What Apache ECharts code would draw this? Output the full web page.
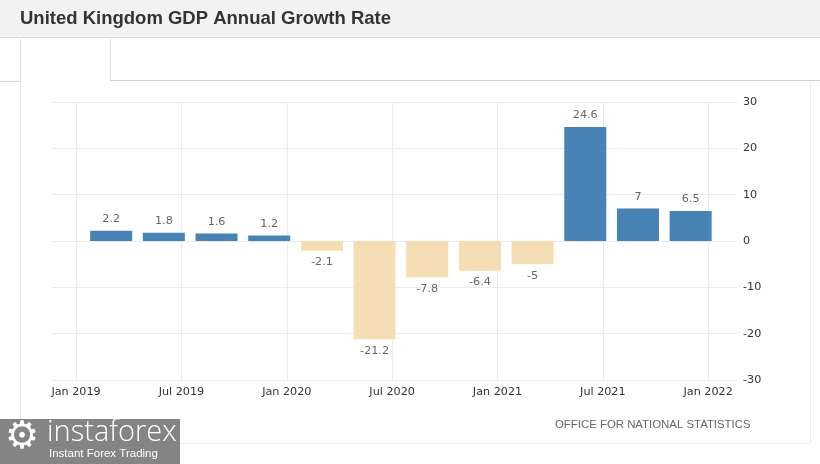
<!DOCTYPE html>
<html>
<head>
<meta charset="utf-8">
<script src="https://cdn.jsdelivr.net/npm/echarts@6/dist/echarts.min.js"></script>
<style>
html,body{margin:0;padding:0;background:#fff;}
#c{width:820px;height:464px;}
</style>
</head>
<body>
<div id="c"></div>
<script>
// Data
const titleText = 'United Kingdom GDP Annual Growth Rate';
const sourceText = 'OFFICE FOR NATIONAL STATISTICS';
const quarterLabels = ['2019Q1','2019Q2','2019Q3','2019Q4','2020Q1','2020Q2','2020Q3','2020Q4','2021Q1','2021Q2','2021Q3','2021Q4'];
// month index (0 = Jan 2019) of each quarter's end month
const quarterMonths = [2,5,8,11,14,17,20,23,26,29,32,35];
const gdpValues = [2.2,1.8,1.6,1.2,-2.1,-21.2,-7.8,-6.4,-5,24.6,7,6.5];
const xTickMonths = [0,6,12,18,24,30,36];
const monthNames = ['Jan','Feb','Mar','Apr','May','Jun','Jul','Aug','Sep','Oct','Nov','Dec'];
const yTicks = [-30,-20,-10,0,10,20,30];

const POS = '#4682b4', NEG = '#f5deb3';
const font = 'DejaVu Sans';

const chart = echarts.init(document.getElementById('c'), null, {renderer:'canvas'});
const seriesData = quarterMonths.map((m,i)=>({
  value:[m, gdpValues[i]],
  itemStyle:{color: gdpValues[i] >= 0 ? POS : NEG},
  label:{position: gdpValues[i] >= 0 ? 'top' : 'bottom'}
}));

chart.setOption({
  animation:false,
  backgroundColor:'#fff',
  title:{
    text:titleText, left:15, top:4,
    textStyle:{fontFamily:'Liberation Sans', fontWeight:'bold', fontSize:18.5, color:'#333'}
  },
  graphic:[
    {type:'rect', z:-10, shape:{x:0,y:0,width:820,height:37}, style:{fill:'#f2f2f2'}},
    {type:'line', z:-9, shape:{x1:0,y1:37.5,x2:820,y2:37.5}, style:{stroke:'#dcdcdc',lineWidth:1}},
    // tab
    {type:'line', z:-9, shape:{x1:20.5,y1:38,x2:20.5,y2:82}, style:{stroke:'#e2e2e2',lineWidth:1}},
    {type:'line', z:-9, shape:{x1:110.5,y1:38,x2:110.5,y2:81}, style:{stroke:'#e2e2e2',lineWidth:1}},
    {type:'line', z:-9, shape:{x1:0,y1:81.5,x2:20,y2:81.5}, style:{stroke:'#d8d8d8',lineWidth:1}},
    {type:'line', z:-9, shape:{x1:110,y1:80.5,x2:820,y2:80.5}, style:{stroke:'#cfcfcf',lineWidth:1}},
    // panel border
    {type:'line', z:-9, shape:{x1:20.5,y1:82,x2:20.5,y2:443}, style:{stroke:'#ececec',lineWidth:1}},
    {type:'line', z:-9, shape:{x1:20,y1:443.5,x2:810,y2:443.5}, style:{stroke:'#ececec',lineWidth:1}},
    {type:'line', z:-9, shape:{x1:810.5,y1:82,x2:810.5,y2:443}, style:{stroke:'#ececec',lineWidth:1}},
    // source
    {type:'text', left:555, top:419, style:{text:sourceText, fill:'#666', font:'11.4px "Liberation Sans"'}},
    // watermark
    {type:'rect', z:20, shape:{x:0,y:419,width:180,height:45}, style:{fill:'#848484'}},
    {type:'text', z:21, left:5, top:419, style:{text:'\u2699', fill:'#fff', font:'38px "DejaVu Sans"'}},
    {type:'text', z:21, left:47, top:418, style:{text:'instaforex', fill:'#fff', font:'300 29px "Open Sans"'}},
    {type:'text', z:21, left:49, top:448, style:{text:'Instant Forex Trading', fill:'#fff', font:'11.5px "Liberation Sans"'}}
  ],
  grid:{left:52, right:83, top:102, bottom:84, containLabel:false},
  xAxis:{
    type:'value', min:-1.37, max:37.64,
    axisLine:{show:false},
    axisTick:{show:false, customValues:xTickMonths},
    axisLabel:{
      customValues:xTickMonths, margin:7, color:'#333', fontFamily:font, fontSize:11.2,
      formatter:(v)=>{const m=Math.round(v); return monthNames[((m%12)+12)%12]+' '+(2019+Math.floor(m/12));}
    },
    splitLine:{show:true, lineStyle:{color:'#ebebeb'}}
  },
  yAxis:{
    type:'value', position:'right', min:-30, max:30, interval:10,
    axisLine:{show:false}, axisTick:{show:false},
    axisLabel:{margin:6, color:'#333', fontFamily:font, fontSize:11.2},
    splitLine:{lineStyle:{color:'#ebebeb'}}
  },
  series:[{
    type:'bar', barWidth:42, data:seriesData,
    label:{show:true, distance:6, color:'#666', fontFamily:font, fontSize:11.2,
      formatter:(p)=>String(p.value[1])}
  }]
});
</script>
</body>
</html>
